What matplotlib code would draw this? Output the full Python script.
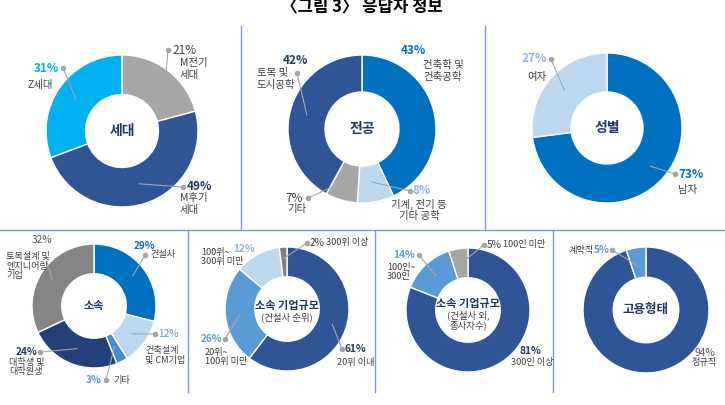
import matplotlib
matplotlib.use("Agg")
import matplotlib.pyplot as plt

plt.rcParams['font.family'] = ['Noto Sans CJK KR', 'DejaVu Sans']

# ---------------- data ----------------
title = "〈그림 3〉 응답자 정보"

gen_title = "세대"
gen_labels = ['M전기\n세대', 'M후기\n세대', 'Z세대']
gen_values = [21, 49, 31]

major_title = "전공"
major_labels = ['건축학 및\n건축공학', '기계, 전기 등\n기타 공학', '기타', '토목 및\n도시공학']
major_values = [43, 8, 7, 42]

sex_title = "성별"
sex_labels = ['남자', '여자']
sex_values = [73, 27]

aff_title = "소속"
aff_labels = ['건설사', '건축설계\n및 CM기업', '기타', '대학생 및\n대학원생', '토목설계 및\n엔지니어링\n기업']
aff_values = [29, 12, 3, 24, 32]

rank_title = "소속 기업규모"
rank_sub = "(건설사 순위)"
rank_labels = ['20위 이내', '20위~\n100위 미만', '100위~\n300위 미만', '300위 이상']
rank_values = [61, 26, 12, 2]

emp_title = "소속 기업규모"
emp_sub = "(건설사 외,\n종사자수)"
emp_labels = ['300인 이상', '100인~\n300인', '100인 미만']
emp_values = [81, 14, 5]

type_title = "고용형태"
type_labels = ['정규직', '계약직']
type_values = [94, 5]

# ---------------- styles ----------------
W, H = 725, 405
NAVY = '#1f3864'
DBLUE = '#2f5597'
BLUE = '#0070c0'
LBLUE = '#bdd7ee'
MBLUE = '#5b9bd5'
CYAN = '#00b0f0'
GRAY = '#a6a6a6'
DGRAY = '#7f7f7f'
TXT = '#404040'
LEAD = '#a6a6a6'
LINE = '#8098d8'

fig = plt.figure(figsize=(7.25, 4.05), dpi=100)
ax = fig.add_axes([0, 0, 1, 1])
ax.set_xlim(0, W)
ax.set_ylim(0, H)
ax.set_aspect('equal')
ax.axis('off')


def P(x, y):
    return x, H - y


def multiline(x, y, text, ha, fs, color):
    lines = text.split('\n')
    step = fs * 1.389 * 1.08
    n = len(lines)
    for i, line in enumerate(lines):
        yy = y + (i - (n - 1) / 2) * step
        ax.text(*P(x, yy), line, ha=ha, va='center', color=color,
                fontsize=fs, zorder=7)


def donut(values, colors, center, R, width, layout, fs_pct, fs_lab):
    import math
    cx, cy = P(*center)
    wedges, _ = ax.pie(values, colors=colors, startangle=90, counterclock=False,
                       center=(cx, cy), radius=R, frame=True,
                       wedgeprops=dict(width=R * width, edgecolor='white', linewidth=1.0))
    for w, lay, val in zip(wedges, layout, values):
        mid = math.radians((w.theta1 + w.theta2) / 2)
        if lay.get('dot') is not None:
            rf = lay['r'] * R
            sx, sy = cx + rf * math.cos(mid), cy + rf * math.sin(mid)
            dx, dy = P(*lay['dot'])
            ax.plot([sx, dx], [sy, dy], color=LEAD, lw=0.8, zorder=5)
            if lay.get('showdot', True):
                ax.plot([dx], [dy], 'o', color=LEAD, ms=3, zorder=6)
        px, py, ha, col, wt = lay['pct']
        ax.text(*P(px, py), f"{val}%", ha=ha, va='center', color=col,
                fontsize=fs_pct, fontweight=wt, zorder=7)
        lx, ly, lha = lay['lab']
        multiline(lx, ly, lay['text'], lha, fs_lab, TXT)


# --- dividers ---
for x in (241, 485):
    ax.plot(*zip(P(x, 26), P(x, 230)), color=LINE, lw=1.0)
ax.plot(*zip(P(0, 230), P(W, 230)), color=LINE, lw=1.0)
for x in (188, 375, 553):
    ax.plot(*zip(P(x, 230), P(x, 392)), color=LINE, lw=1.0)

# title
ax.text(*P(362, 6), title, ha='center', va='center', fontsize=12,
        fontweight='bold', color='black')

# --- 세대 ---
donut(gen_values, [GRAY, DBLUE, CYAN], (122, 131), 76, 0.52, [
    dict(text=gen_labels[0], pct=(172, 50, 'left', TXT, 'normal'), dot=(168, 50), r=0.95, lab=(180, 69, 'left')),
    dict(text=gen_labels[1], pct=(187, 187, 'left', NAVY, 'bold'), dot=(183, 187), r=0.73, lab=(180, 204, 'left')),
    dict(text=gen_labels[2], pct=(59, 68, 'right', CYAN, 'bold'), dot=(63, 68), r=0.74, lab=(28, 85, 'left')),
], 8.5, 7.5)
ax.text(*P(122, 131), gen_title, ha='center', va='center', fontsize=10, fontweight='bold', color=NAVY)

# --- 전공 ---
donut(major_values, [BLUE, LBLUE, GRAY, DBLUE], (362, 129), 74, 0.5, [
    dict(text=major_labels[0], pct=(413, 51, 'center', BLUE, 'bold'), dot=None, lab=(423, 71, 'left')),
    dict(text=major_labels[1], pct=(413, 191, 'left', '#8db3e2', 'bold'), dot=(410, 191), r=0.73, lab=(419, 210, 'center')),
    dict(text=major_labels[2], pct=(303, 198, 'right', TXT, 'normal'), dot=(308, 198), r=0.72, lab=(287, 209, 'left')),
    dict(text=major_labels[3], pct=(295, 60, 'center', NAVY, 'bold'), dot=(297, 73), r=0.77, lab=(257, 79, 'left')),
], 8.5, 7.5)
ax.text(*P(362, 129), major_title, ha='center', va='center', fontsize=10, fontweight='bold', color=NAVY)

# --- 성별 ---
donut(sex_values, [BLUE, LBLUE], (607, 128), 75, 0.52, [
    dict(text=sex_labels[0], pct=(678, 174, 'left', BLUE, 'bold'), dot=(675, 174), r=0.77, lab=(678, 190, 'left')),
    dict(text=sex_labels[1], pct=(547, 59, 'right', '#8db3e2', 'bold'), dot=(551, 59), r=0.76, lab=(527, 77, 'left')),
], 8.5, 7.5)
ax.text(*P(607, 128), sex_title, ha='center', va='center', fontsize=10, fontweight='bold', color=NAVY)

# --- 소속 ---
donut(aff_values, [BLUE, LBLUE, '#4a8ad4', '#23407a', '#858585'], (94, 306), 62, 0.48, [
    dict(text=aff_labels[0], pct=(145, 246, 'center', BLUE, 'bold'), dot=(145, 255), r=0.79, lab=(150, 255, 'left')),
    dict(text=aff_labels[1], pct=(158, 334, 'left', MBLUE, 'normal'), dot=(155, 334), r=0.76, lab=(145, 355, 'left')),
    dict(text=aff_labels[2], pct=(102, 380, 'right', MBLUE, 'bold'), dot=(106, 380), r=0.73, lab=(113, 380, 'left')),
    dict(text=aff_labels[3], pct=(37, 352, 'right', NAVY, 'bold'), dot=(40, 352), r=0.74, lab=(9, 367, 'left')),
    dict(text=aff_labels[4], pct=(42, 240, 'center', '#595959', 'normal'), dot=(47, 262), showdot=False, r=0.8, lab=(6, 266, 'left')),
], 7.3, 6.6)
ax.text(*P(94, 306), aff_title, ha='center', va='center', fontsize=8, fontweight='bold', color=NAVY)

# --- 소속 기업규모 (건설사 순위) ---
donut(rank_values, [DBLUE, MBLUE, LBLUE, DGRAY], (287, 309), 62, 0.48, [
    dict(text=rank_labels[0], pct=(345, 349, 'left', NAVY, 'bold'), dot=(342, 349), r=0.77, lab=(337, 362, 'left')),
    dict(text=rank_labels[1], pct=(222, 339, 'right', MBLUE, 'bold'), dot=(225, 339), r=0.76, lab=(205, 357, 'left')),
    dict(text=rank_labels[2], pct=(244, 249, 'center', '#8db3e2', 'bold'), dot=None, lab=(201, 257, 'left')),
    dict(text=rank_labels[3], pct=(310, 243, 'left', TXT, 'normal'), dot=(307, 243), r=0.82, lab=(326, 243, 'left')),
], 7.3, 6.6)
ax.text(*P(287, 305), rank_title, ha='center', va='center', fontsize=8, fontweight='bold', color=NAVY)
ax.text(*P(287, 317), rank_sub, ha='center', va='center', fontsize=6.8, color=TXT)

# --- 소속 기업규모 (건설사 외) ---
donut(emp_values, [DBLUE, MBLUE, GRAY], (468, 310), 62, 0.48, [
    dict(text=emp_labels[0], pct=(530, 351, 'center', NAVY, 'bold'), dot=None, lab=(532, 362, 'center')),
    dict(text=emp_labels[1], pct=(415, 255, 'right', MBLUE, 'bold'), dot=(419, 255), r=0.76, lab=(387, 272, 'left')),
    dict(text=emp_labels[2], pct=(487, 245, 'left', TXT, 'normal'), dot=(484, 245), r=0.76, lab=(503, 245, 'left')),
], 7.3, 6.6)
ax.text(*P(468, 304), emp_title, ha='center', va='center', fontsize=8, fontweight='bold', color=NAVY)
multiline(468, 320, emp_sub, 'center', 6.8, TXT)

# --- 고용형태 ---
donut(type_values, [DBLUE, MBLUE], (646, 310), 63, 0.48, [
    dict(text=type_labels[0], pct=(705, 353, 'center', '#595959', 'normal'), dot=None, lab=(704, 363, 'center')),
    dict(text=type_labels[1], pct=(610, 250, 'right', MBLUE, 'bold'), dot=(612, 250), r=0.7, lab=(594, 250, 'right')),
], 7.3, 6.6)
ax.text(*P(646, 310), type_title, ha='center', va='center', fontsize=9, fontweight='bold', color=NAVY)

ax.set_xlim(0, W)
ax.set_ylim(0, H)
fig.savefig('out.png', dpi=100)
